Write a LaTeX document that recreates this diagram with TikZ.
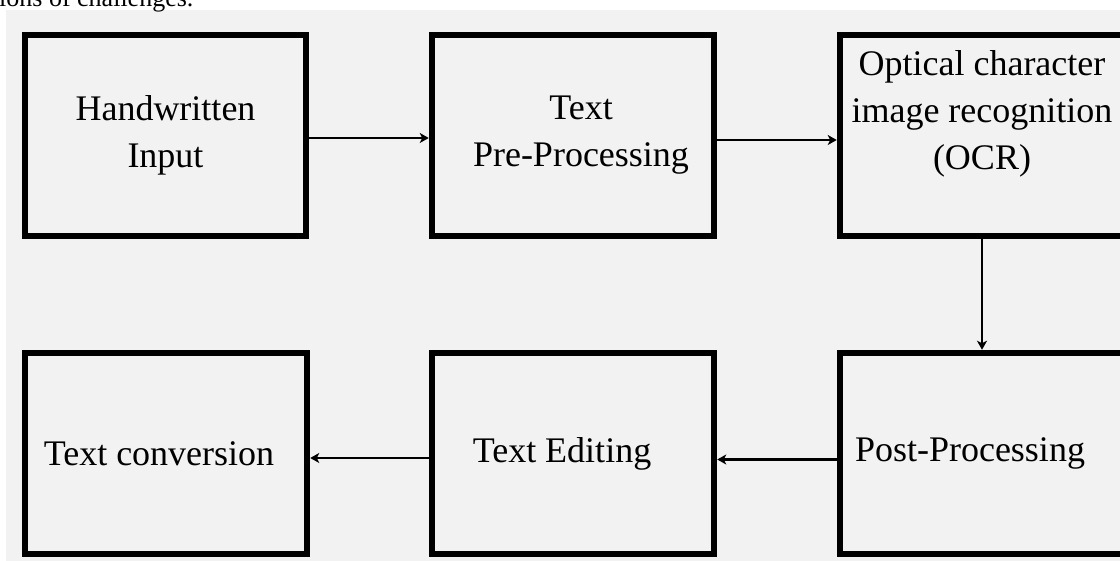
\documentclass[tikz,border=0pt]{standalone}
\usepackage{fontspec}
\setmainfont{Liberation Serif}
\usetikzlibrary{arrows.meta}

\definecolor{pagegray}{HTML}{F2F2F2}

\tikzset{
    stagebox/.style={draw=black, line width=6.5pt, fill=pagegray, align=center,
        minimum height=201pt, inner sep=0pt,
        font=\fontsize{36}{47}\selectfont},
    flow/.style={-{Stealth[length=9pt, width=10pt, inset=2.5pt]}, line width=2.2pt}
}

\begin{document}
\begin{tikzpicture}[x=1pt, y=-1pt]
    \useasboundingbox (0,0) rectangle (1120,561);
    \clip (0,0) rectangle (1120,561);

    \fill[white] (0,0) rectangle (1120,561);
    \fill[pagegray] (6,10) rectangle (1120,561);
    \node[anchor=base west, inner sep=0pt, font=\fontsize{26}{30}\selectfont] (caption) at (-1,6.5) {ions of challenges.};

    % first row
    \node[stagebox, minimum width=281pt] (input) at (165.5,135.5) {Handwritten\\Input};
    \node[stagebox, minimum width=282pt] (prep) at (573,135.5) {\hspace{16pt}Text\\\hspace{16pt}Pre-Processing};
    \node[stagebox, minimum width=284pt] (ocr) at (982,135.5) {Optical character\\image recognition\\(OCR)\\[4pt]\mbox{}};

    % second row
    \node[stagebox, minimum width=282pt] (conv) at (166,453.5) {Text conversion\hspace{14pt}};
    \node[stagebox, minimum width=282pt] (edit) at (573,453.5) {Text Editing\hspace{22pt}};
    \node[stagebox, minimum width=284pt] (post) at (982,453.5) {Post-Processing\hspace{24pt}};

    \draw[flow] ([yshift=-2.5pt]input.east) -- ([yshift=-2.5pt]prep.west);
    \draw[flow] ([yshift=-4.5pt]prep.east) -- ([yshift=-4.5pt]ocr.west);
    \draw[flow] (ocr.south) -- (post.north);
    \draw[flow] ([yshift=-6pt]post.west) -- ([yshift=-6pt]edit.east);
    \draw[flow] ([yshift=-4.5pt]edit.west) -- ([yshift=-4.5pt]conv.east);
\end{tikzpicture}
\end{document}
